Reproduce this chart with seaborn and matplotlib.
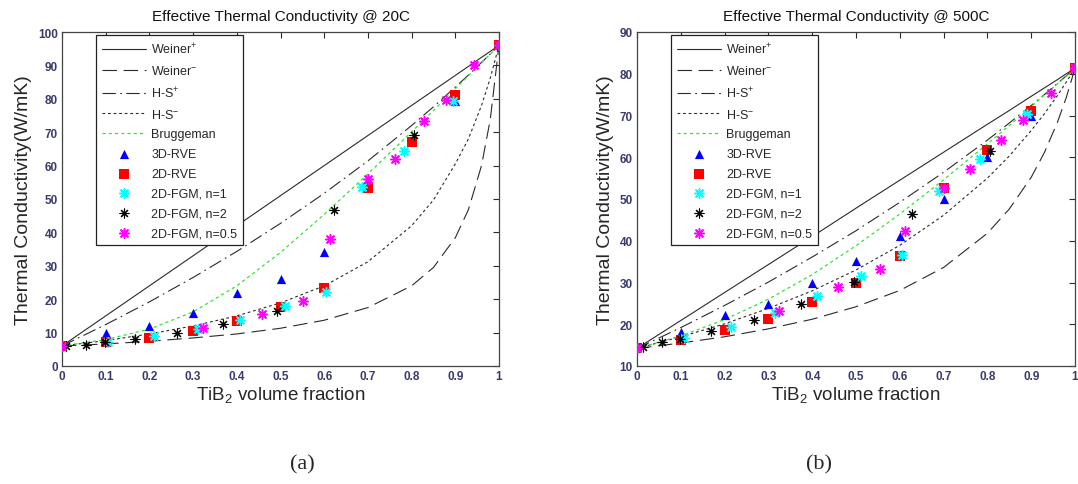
import matplotlib
matplotlib.use("Agg")
import matplotlib.pyplot as plt
import seaborn as sns

# ---------------- data ----------------
# common x-grid for the analytical bound curves
curve_x = [0, 0.1, 0.2, 0.3, 0.4, 0.5, 0.6, 0.7, 0.8, 0.85, 0.9, 0.93, 0.96, 0.98, 1.0]

# panel (a): 20C
a_weiner_p = [6, 15, 24, 33, 42, 51, 60, 69, 78, 82.5, 87, 89.7, 92.4, 94.2, 96]
a_weiner_m = [6, 6.6, 7.4, 8.4, 9.6, 11.3, 13.7, 17.5, 24.0, 29.5, 38.4, 46.8, 60.0, 73.8, 96]
a_hs_p = [6, 12.4, 19.2, 26.5, 34.3, 42.7, 51.7, 61.4, 72.0, 77.6, 83.5, 87.1, 90.9, 93.4, 96]
a_hs_m = [6, 7.6, 9.6, 12.0, 15.0, 18.9, 24.0, 31.2, 42.0, 49.7, 60.5, 68.0, 78.0, 86.2, 96]
a_brugg = [6, 7.9, 11.05, 16.2, 24.0, 34.0, 45.4, 57.5, 70.1, 76.5, 83.0, 86.9, 90.8, 93.4, 96]

a_rve3d_x = [0, 0.1, 0.2, 0.3, 0.4, 0.5, 0.6, 0.7, 0.8, 0.9, 1.0]
a_rve3d_y = [6, 10, 12, 16, 22, 26, 34, 56, 67.5, 79.4, 96]
a_rve2d_x = [0, 0.1, 0.2, 0.3, 0.4, 0.5, 0.6, 0.7, 0.8, 0.9, 1.0]
a_rve2d_y = [6, 7.3, 8.5, 10.5, 13.4, 17.6, 23.5, 53.3, 67.2, 81.1, 96]
a_fgm1_x = [0, 0.106, 0.211, 0.312, 0.408, 0.511, 0.605, 0.687, 0.783, 0.894, 1.0]
a_fgm1_y = [6, 7.1, 8.9, 11.2, 13.8, 18.1, 22.2, 53.7, 64.5, 79.4, 96]
a_fgm2_x = [0.009, 0.056, 0.099, 0.166, 0.264, 0.369, 0.493, 0.623, 0.805, 1.0]
a_fgm2_y = [6.0, 6.4, 7.3, 8.1, 9.9, 12.5, 16.6, 46.7, 69.2, 96]
a_fgm05_x = [0, 0.322, 0.457, 0.552, 0.613, 0.70, 0.761, 0.829, 0.879, 0.943, 1.0]
a_fgm05_y = [6, 11.4, 15.6, 19.4, 38.0, 56.0, 62.0, 73.3, 79.6, 90.2, 96]

# panel (b): 500C
b_weiner_p = [14.2, 20.9, 27.6, 34.3, 41.0, 47.8, 54.5, 61.2, 67.9, 71.2, 74.6, 76.6, 78.6, 80.0, 81.3]
b_weiner_m = [14.2, 15.5, 17.0, 18.9, 21.2, 24.2, 28.1, 33.6, 41.8, 47.6, 55.2, 61.1, 68.4, 74.3, 81.3]
b_hs_p = [14.2, 19.2, 24.5, 30.1, 36.1, 42.4, 49.2, 56.4, 64.1, 68.2, 72.4, 75.0, 77.7, 79.5, 81.3]
b_hs_m = [14.2, 17.0, 20.1, 23.8, 28.0, 33.0, 38.9, 46.1, 55.0, 60.3, 66.4, 70.4, 74.8, 78.0, 81.3]
b_brugg = [14.2, 17.2, 21.1, 26.0, 31.9, 38.8, 46.4, 54.6, 63.2, 67.6, 72.1, 74.9, 77.6, 79.4, 81.3]

b_rve3d_x = [0, 0.1, 0.2, 0.3, 0.4, 0.5, 0.6, 0.7, 0.8, 0.9, 1.0]
b_rve3d_y = [14.2, 18.2, 22.2, 24.9, 30.0, 35.1, 41.1, 49.9, 60.1, 69.9, 81.3]
b_rve2d_x = [0, 0.1, 0.2, 0.3, 0.4, 0.5, 0.6, 0.7, 0.8, 0.9, 1.0]
b_rve2d_y = [14.2, 16.3, 18.6, 21.3, 25.3, 30.0, 36.3, 52.6, 61.8, 71.1, 81.3]
b_fgm1_x = [0, 0.107, 0.214, 0.314, 0.41, 0.511, 0.606, 0.69, 0.783, 0.891, 1.0]
b_fgm1_y = [14.2, 16.6, 19.4, 22.6, 26.7, 31.6, 36.7, 52.0, 59.7, 70.3, 81.3]
b_fgm2_x = [0.014, 0.057, 0.099, 0.168, 0.267, 0.374, 0.496, 0.627, 0.805, 1.0]
b_fgm2_y = [14.6, 15.7, 16.4, 18.3, 21.0, 24.9, 30.2, 46.3, 61.6, 81.3]
b_fgm05_x = [0, 0.324, 0.46, 0.555, 0.613, 0.702, 0.761, 0.831, 0.881, 0.946, 1.0]
b_fgm05_y = [14.2, 23.1, 29.0, 33.3, 42.4, 52.6, 57.1, 64.2, 68.9, 75.4, 81.3]

x_ticks = [0, 0.1, 0.2, 0.3, 0.4, 0.5, 0.6, 0.7, 0.8, 0.9, 1.0]
x_ticklabels = ["0", "0.1", "0.2", "0.3", "0.4", "0.5", "0.6", "0.7", "0.8", "0.9", "1"]
a_yticks = [0, 10, 20, 30, 40, 50, 60, 70, 80, 90, 100]
b_yticks = [10, 20, 30, 40, 50, 60, 70, 80, 90]
titles = ["Effective Thermal Conductivity @ 20C", "Effective Thermal Conductivity @ 500C"]
panel_tags = ["(a)", "(b)"]

# ---------------- style ----------------
sns.set_style("white")
plt.rcParams["font.family"] = ["Liberation Sans", "DejaVu Sans"]
plt.rcParams["mathtext.fontset"] = "custom"
plt.rcParams["mathtext.rm"] = "Liberation Sans"
plt.rcParams["mathtext.it"] = "Liberation Sans:italic"
plt.rcParams["mathtext.bf"] = "Liberation Sans:bold"

LINE = "#2a2a2a"
GREEN = "#2ee62e"
TICKC = "#3a3a6e"
ASTER = (8, 2, 0)

fig = plt.figure(figsize=(10.78, 4.85), dpi=100)
W, H = 1078, 485
ax_a = fig.add_axes([62 / W, 118 / H, 437 / W, 334 / H])
ax_b = fig.add_axes([637 / W, 118 / H, 438 / W, 334 / H])

panels = [
    (ax_a, a_weiner_p, a_weiner_m, a_hs_p, a_hs_m, a_brugg,
     (a_rve3d_x, a_rve3d_y), (a_rve2d_x, a_rve2d_y), (a_fgm1_x, a_fgm1_y),
     (a_fgm2_x, a_fgm2_y), (a_fgm05_x, a_fgm05_y), (0, 100), a_yticks),
    (ax_b, b_weiner_p, b_weiner_m, b_hs_p, b_hs_m, b_brugg,
     (b_rve3d_x, b_rve3d_y), (b_rve2d_x, b_rve2d_y), (b_fgm1_x, b_fgm1_y),
     (b_fgm2_x, b_fgm2_y), (b_fgm05_x, b_fgm05_y), (10, 90), b_yticks),
]

for i, (ax, wp, wm, hp, hm, br, r3, r2, f1, f2, f05, ylim, yt) in enumerate(panels):
    sns.lineplot(x=curve_x, y=wp, ax=ax, color=LINE, lw=0.8, linestyle="-", label="Weiner$^{+}$")
    sns.lineplot(x=curve_x, y=wm, ax=ax, color=LINE, lw=0.8, linestyle=(0, (13, 6)), label="Weiner$^{-}$")
    sns.lineplot(x=curve_x, y=hp, ax=ax, color=LINE, lw=0.8, linestyle=(0, (12, 4, 1.5, 4)), label="H-S$^{+}$")
    sns.lineplot(x=curve_x, y=hm, ax=ax, color=LINE, lw=0.8, linestyle=(0, (2.5, 2.5)), label="H-S$^{-}$")
    sns.lineplot(x=curve_x, y=br, ax=ax, color=GREEN, lw=0.9, linestyle=(0, (2.5, 2.5)), label="Bruggeman")

    sns.scatterplot(x=r3[0], y=r3[1], ax=ax, marker="^", s=44, color="#0000ff",
                    edgecolor="#0000ff", linewidth=0, label="3D-RVE", zorder=3)
    sns.scatterplot(x=r2[0], y=r2[1], ax=ax, marker="s", s=42, color="#ff0000",
                    edgecolor="#ff0000", linewidth=0, label="2D-RVE", zorder=3)
    sns.scatterplot(x=f1[0], y=f1[1], ax=ax, marker=ASTER, s=48, color="#00ffff",
                    edgecolor="#00ffff", linewidth=1.1, label="2D-FGM, n=1", zorder=3)
    sns.scatterplot(x=f2[0], y=f2[1], ax=ax, marker=ASTER, s=42, color="#000000",
                    edgecolor="#000000", linewidth=0.8, label="2D-FGM, n=2", zorder=3)
    sns.scatterplot(x=f05[0], y=f05[1], ax=ax, marker=ASTER, s=48, color="#ff00ff",
                    edgecolor="#ff00ff", linewidth=1.1, label="2D-FGM, n=0.5", zorder=3)

    ax.set_xlim(0, 1)
    ax.set_ylim(*ylim)
    ax.set_xticks(x_ticks)
    ax.set_xticklabels(x_ticklabels)
    ax.set_yticks(yt)
    ax.set_yticklabels([str(v) for v in yt])
    ax.tick_params(direction="in", length=4, width=0.8, top=True, right=True,
                   labelsize=8.5, labelcolor=TICKC, color=LINE, pad=3)
    for lab in ax.get_xticklabels() + ax.get_yticklabels():
        lab.set_fontweight("bold")
    for sp in ax.spines.values():
        sp.set_color("#444444")
        sp.set_linewidth(0.9)

    ax.set_title(titles[i], fontsize=11, pad=9, color="#111111")
    ax.set_xlabel("TiB$_2$ volume fraction", fontsize=13.5, labelpad=1)
    ax.set_ylabel("Thermal Conductivity(W/mK)", fontsize=14, labelpad=4)

    leg = ax.legend(loc="upper left", bbox_to_anchor=(0.078, 0.991), borderaxespad=0,
                    fontsize=9, frameon=True, fancybox=False, framealpha=1,
                    edgecolor="#222222", handlelength=3.5, handletextpad=0.4,
                    labelspacing=0.62, borderpad=0.5, scatterpoints=1)
    leg.get_frame().set_linewidth(0.9)

fig.text(302 / W, 1 - 465 / H, panel_tags[0], ha="center", va="center",
         fontsize=16, family=["Liberation Serif", "DejaVu Serif"])
fig.text(819 / W, 1 - 465 / H, panel_tags[1], ha="center", va="center",
         fontsize=16, family=["Liberation Serif", "DejaVu Serif"])

fig.savefig("out.png", dpi=100, facecolor="white")
